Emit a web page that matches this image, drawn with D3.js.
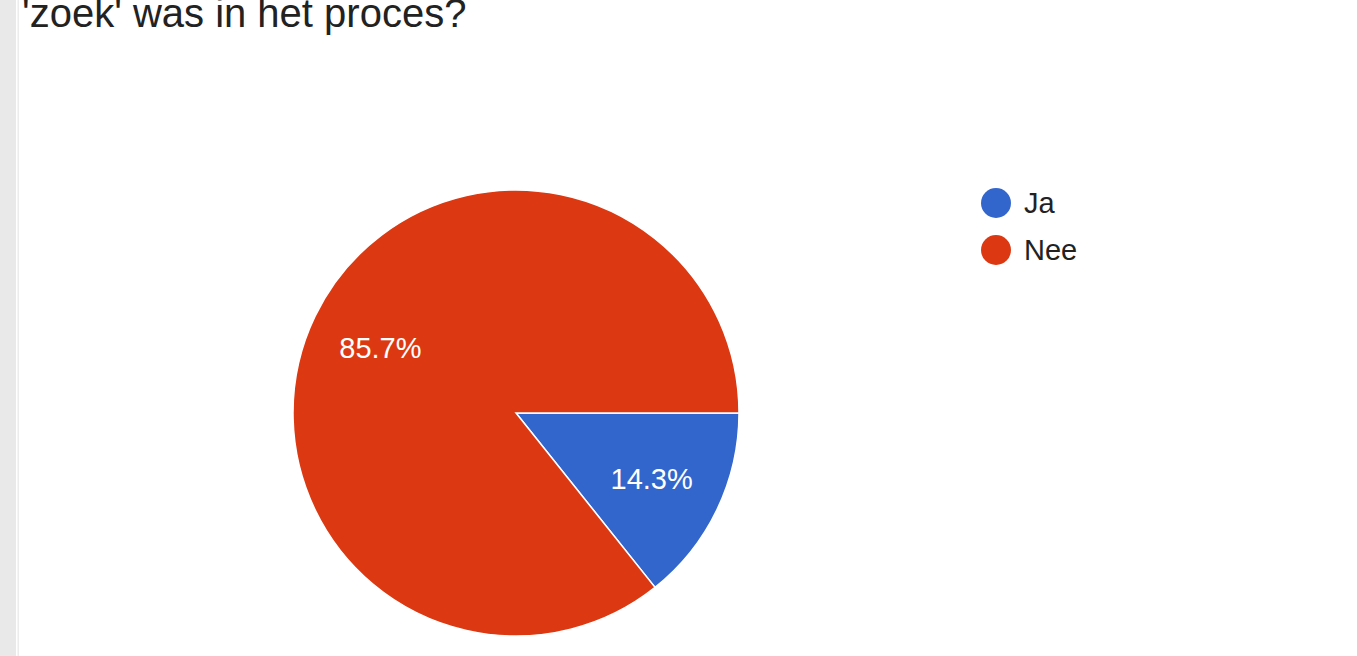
<!DOCTYPE html>
<html>
<head>
<meta charset="utf-8">
<script src="https://cdn.jsdelivr.net/npm/d3@7"></script>
<style>
  html, body { margin: 0; padding: 0; background: #fff; overflow: hidden; }
  #chart { width: 1357px; height: 656px; }
</style>
</head>
<body>
<div id="chart"></div>
<script>
// Data
const categories = ["Ja", "Nee"];
const values = [1, 6];
const labels = ["14.3%", "85.7%"];
const colors = ["#3366cc", "#dc3912"];
const title = "'zoek' was in het proces?";

const width = 1357;
const height = 656;

const svg = d3.select("#chart").append("svg")
    .attr("width", width)
    .attr("height", height);

// Left grey page strip
svg.append("rect")
    .attr("x", 0).attr("y", 0)
    .attr("width", 16).attr("height", height)
    .attr("fill", "#e9e9e9");
svg.append("rect")
    .attr("x", 17.5).attr("y", 0)
    .attr("width", 1.5).attr("height", height)
    .attr("fill", "#ececec");

// Title (cropped at the top, as in the screenshot)
svg.append("text")
    .attr("x", 22)
    .attr("y", 27)
    .attr("font-family", "Arial, 'Liberation Sans', sans-serif")
    .attr("font-size", 40)
    .attr("fill", "#222")
    .text(title);

// Pie
const cx = 516, cy = 413, radius = 223;

const pie = d3.pie()
    .sort(null)
    .value(d => d)
    .startAngle(Math.PI / 2)
    .endAngle(Math.PI / 2 + 2 * Math.PI);

const arc = d3.arc().innerRadius(0).outerRadius(radius);
const labelArc = d3.arc().innerRadius(radius * 0.675).outerRadius(radius * 0.675);

const g = svg.append("g").attr("transform", `translate(${cx},${cy})`);
const arcs = pie(values);

g.selectAll("path")
    .data(arcs)
    .join("path")
    .attr("d", arc)
    .attr("fill", (d, i) => colors[i])
    .attr("stroke", "#fff")
    .attr("stroke-width", 1.5);

g.selectAll("text.slice")
    .data(arcs)
    .join("text")
    .attr("class", "slice")
    .attr("transform", d => `translate(${labelArc.centroid(d)})`)
    .attr("dy", "0.36em")
    .attr("text-anchor", "middle")
    .attr("font-family", "Arial, 'Liberation Sans', sans-serif")
    .attr("font-size", 29)
    .attr("fill", "#fff")
    .text((d, i) => labels[i]);

// Legend
const legend = svg.append("g").attr("transform", "translate(996,203)");
const item = legend.selectAll("g")
    .data(categories)
    .join("g")
    .attr("transform", (d, i) => `translate(0,${i * 47})`);
item.append("circle")
    .attr("r", 15)
    .attr("fill", (d, i) => colors[i]);
item.append("text")
    .attr("x", 28)
    .attr("dy", "0.36em")
    .attr("font-family", "Arial, 'Liberation Sans', sans-serif")
    .attr("font-size", 29)
    .attr("fill", "#222")
    .text(d => d);
</script>
</body>
</html>
